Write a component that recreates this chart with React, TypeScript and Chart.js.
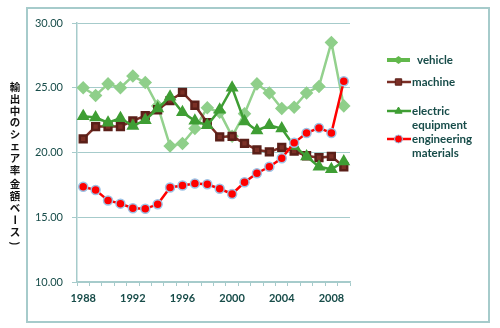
import React, { useEffect, useRef } from 'react';
import { Chart, registerables } from 'chart.js';

Chart.register(...registerables);

const years = ['1988', '1989', '1990', '1991', '1992', '1993', '1994', '1995', '1996', '1997', '1998', '1999', '2000', '2001', '2002', '2003', '2004', '2005', '2006', '2007', '2008', '2009'];
const shownYears = ['1988', '1992', '1996', '2000', '2004', '2008'];

const vehicle = [25.0, 24.4, 25.3, 25.0, 25.9, 25.4, 23.6, 20.5, 20.7, 21.85, 23.45, 23.1, 21.25, 23.0, 25.3, 24.6, 23.4, 23.5, 24.6, 25.1, 28.5, 23.6];
const machine = [21.05, 22.0, 22.0, 22.0, 22.45, 22.85, 23.3, 24.0, 24.65, 23.65, 22.3, 21.2, 21.25, 20.7, 20.2, 20.05, 20.4, 20.1, 19.75, 19.6, 19.7, 18.9];
const electric = [22.8, 22.7, 22.3, 22.65, 22.05, 22.5, 23.4, 24.3, 23.1, 22.45, 22.1, 23.3, 25.0, 22.4, 21.7, 22.1, 21.85, 20.5, 19.7, 18.9, 18.7, 19.3];
const engineering = [17.35, 17.1, 16.3, 16.05, 15.7, 15.65, 16.0, 17.3, 17.45, 17.6, 17.55, 17.2, 16.8, 17.7, 18.4, 18.9, 19.55, 20.75, 21.5, 21.9, 21.5, 25.5];

const seriesLabels = ['vehicle', 'machine', 'electric equipment', 'engineering materials'];
const legendLines = [['vehicle'], ['machine'], ['electric', 'equipment'], ['engineering', 'materials']];
const yTitle = '輸出中のシェア率 金額ベース)';

const TEAL = '#a6cbcb';
const TEXT = '#174c49';

function drawMarker(ctx: CanvasRenderingContext2D, kind: string, x: number, y: number, r: number, fill: string, stroke: string) {
  ctx.beginPath();
  if (kind === 'rectRot') {
    ctx.moveTo(x, y - r); ctx.lineTo(x + r, y); ctx.lineTo(x, y + r); ctx.lineTo(x - r, y); ctx.closePath();
  } else if (kind === 'rect') {
    ctx.rect(x - r * 0.8, y - r * 0.8, r * 1.6, r * 1.6);
  } else if (kind === 'triangle') {
    ctx.moveTo(x, y - r); ctx.lineTo(x + r * 0.9, y + r * 0.55); ctx.lineTo(x - r * 0.9, y + r * 0.55); ctx.closePath();
  } else {
    ctx.arc(x, y, r, 0, Math.PI * 2);
  }
  ctx.fillStyle = fill; ctx.fill();
  ctx.strokeStyle = stroke; ctx.lineWidth = 1; ctx.stroke();
}

const overlay = {
  id: 'overlay',
  afterDraw(chart: any) {
    const ctx: CanvasRenderingContext2D = chart.ctx;
    ctx.save();
    // outer frame
    ctx.strokeStyle = TEAL;
    ctx.lineWidth = 2;
    ctx.strokeRect(27, 8, 462, 314);

    // vertical y title
    ctx.fillStyle = '#111';
    ctx.font = 'bold 10.5px "Noto Sans CJK JP"';
    ctx.textAlign = 'center';
    ctx.textBaseline = 'middle';
    let y = 87;
    for (const ch of Array.from(yTitle)) {
      if (ch === ' ') { y += 3; continue; }
      if (ch === 'ー' || ch === ')') {
        ctx.save();
        ctx.translate(15, y);
        ctx.rotate(Math.PI / 2);
        ctx.fillText(ch, 0, 0);
        ctx.restore();
      } else {
        ctx.fillText(ch, 15, y);
      }
      y += 11.8;
    }

    // legend
    const legendY = [60, 82, 111, 139];
    const legendColors = ['#62b84c', '#7a2e25', '#3f9e34', '#ff0000'];
    const legendMarkers = ['rectRot', 'rect', 'triangle', 'circle'];
    const markerStroke = ['#62b84c', '#5a1f18', '#3f9e34', '#9cc3e6'];
    const textX = [417, 412, 412, 412];
    legendLines.forEach((lines, i) => {
      const ly = legendY[i];
      ctx.strokeStyle = legendColors[i];
      ctx.lineWidth = i === 0 ? 4 : 2.5;
      ctx.beginPath(); ctx.moveTo(387, ly); ctx.lineTo(i === 0 ? 410 : 411, ly); ctx.stroke();
      if (i === 0) {
        ctx.beginPath();
        ctx.moveTo(398.5, ly - 4); ctx.lineTo(404, ly); ctx.lineTo(398.5, ly + 4); ctx.lineTo(393, ly); ctx.closePath();
        ctx.fillStyle = legendColors[i]; ctx.fill();
      } else {
        drawMarker(ctx, legendMarkers[i], 398.5, ly, 4, legendColors[i], markerStroke[i]);
      }
      ctx.fillStyle = TEXT;
      ctx.font = 'bold 11.5px Lato';
      ctx.textAlign = 'left';
      ctx.textBaseline = 'middle';
      lines.forEach((t, k) => ctx.fillText(t, textX[i], ly + k * 14));
    });
    ctx.restore();
  },
};

export default function App() {
  const ref = useRef<HTMLCanvasElement>(null);
  useEffect(() => {
    if (!ref.current) return;
    Chart.defaults.font.family = 'Lato';
    const chart = new Chart(ref.current, {
      type: 'line',
      data: {
        labels: years,
        datasets: [
          {
            label: seriesLabels[0], data: vehicle, borderColor: '#93d18d', backgroundColor: '#8fcf8a',
            pointBackgroundColor: '#8fcf8a', pointBorderColor: '#8fcf8a', pointStyle: 'rectRot', pointRadius: 5,
            borderWidth: 2.5, tension: 0, order: 4,
          },
          {
            label: seriesLabels[1], data: machine, borderColor: '#7a2e25', backgroundColor: '#7b3026',
            pointBackgroundColor: '#7b3026', pointBorderColor: '#5a1f18', pointStyle: 'rect', pointRadius: 4.8,
            borderWidth: 2.5, tension: 0, order: 3,
          },
          {
            label: seriesLabels[2], data: electric, borderColor: '#3f9e34', backgroundColor: '#3f9e34',
            pointBackgroundColor: '#3f9e34', pointBorderColor: '#3f9e34', pointStyle: 'triangle', pointRadius: 5,
            borderWidth: 2.5, tension: 0, order: 2,
          },
          {
            label: seriesLabels[3], data: engineering, borderColor: '#ff0000', backgroundColor: '#ff0000',
            pointBackgroundColor: '#ff0000', pointBorderColor: '#9cc3e6', pointBorderWidth: 1.5, pointStyle: 'circle', pointRadius: 4.5,
            borderWidth: 2.5, tension: 0, order: 1,
          },
        ],
      },
      options: {
        animation: false,
        responsive: false,
        maintainAspectRatio: false,
        layout: { padding: { left: 0, right: 150, top: 23, bottom: 0 } },
        plugins: { legend: { display: false }, tooltip: { enabled: false } },
        scales: {
          x: {
            offset: true,
            grid: { display: true, drawOnChartArea: false, drawTicks: true, tickLength: 4, color: TEAL, offset: true },
            border: { color: TEAL, width: 1.5 },
            ticks: {
              autoSkip: false, maxRotation: 0, padding: 6, color: TEXT,
              font: { size: 11, family: 'Lato', weight: 'bold' },
              callback: (_v: any, idx: number) => (shownYears.includes(years[idx]) ? years[idx] : ''),
            },
            afterFit: (s: any) => { s.height = 46; },
          },
          y: {
            min: 10, max: 30,
            grid: { color: TEAL, lineWidth: 1, tickLength: 5, drawTicks: true },
            border: { color: TEAL, width: 1.5 },
            ticks: {
              stepSize: 5, padding: 9, color: TEXT,
              font: { size: 11, family: 'Lato' },
              callback: (v: any) => Number(v).toFixed(2),
            },
            afterFit: (s: any) => { s.width = 77; },
          },
        },
      },
      plugins: [overlay],
    } as any);
    return () => chart.destroy();
  }, []);
  return (
    <div style={{ position: 'fixed', left: 0, top: 0, width: 500, height: 328, background: '#fff' }}>
      <canvas ref={ref} width={500} height={328} style={{ width: 500, height: 328 }} />
    </div>
  );
}
